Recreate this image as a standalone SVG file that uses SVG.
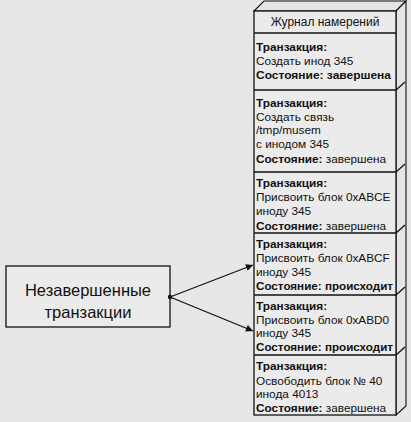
<svg xmlns="http://www.w3.org/2000/svg" width="411" height="422" viewBox="0 0 411 422">
<defs>
<style>
.bg{fill:#e7e7e7}
.ln{fill:none;stroke:#111;stroke-width:1.3}
.face{fill:#ebebeb;stroke:#111;stroke-width:1.3}
.side{fill:#e4e4e4;stroke:#111;stroke-width:1.1}
text{font-family:"Liberation Sans",Arial,sans-serif;fill:#111}
.t{font-size:11.8px}
.b{font-weight:bold}
.h{font-size:12px}
.big{font-size:16.5px}
</style>
<marker id="ah" viewBox="0 0 10 10" refX="10" refY="5" markerWidth="9" markerHeight="7" markerUnits="userSpaceOnUse" orient="auto">
<path d="M0,0 L10,5 L0,10 z" fill="#111"/>
</marker>
</defs>
<rect class="bg" x="0" y="0" width="411" height="422"/>
<g id="journal">
<polygon class="side" points="254,11 264,1 406,1 396,11"/>
<polygon class="side" points="396,11 406,1 406,406 396,415"/>
<rect class="face" x="254" y="11" width="142" height="404"/>
<line class="ln" x1="254" y1="33" x2="396" y2="33"/>
<text class="h" x="325" y="26" text-anchor="middle">Журнал намерений</text>
</g>
<g id="row1">
<line class="ln" x1="254" y1="90" x2="396" y2="90"/>
<line class="ln" x1="396" y1="90" x2="405" y2="82"/>
<text class="t b" x="256" y="51">Транзакция:</text>
<text class="t" x="256" y="65">Создать инод 345</text>
<text class="t b" x="256" y="79" textLength="135" lengthAdjust="spacingAndGlyphs">Состояние: завершена</text>
</g>
<g id="row2">
<line class="ln" x1="254" y1="172" x2="396" y2="172"/>
<line class="ln" x1="396" y1="172" x2="405" y2="164"/>
<text class="t b" x="256" y="107">Транзакция:</text>
<text class="t" x="256" y="121">Создать связь</text>
<text class="t" x="256" y="134">/tmp/musem</text>
<text class="t" x="256" y="148">с инодом 345</text>
<text class="t" x="256" y="163"><tspan class="b">Состояние:</tspan> завершена</text>
</g>
<g id="row3">
<line class="ln" x1="254" y1="233" x2="396" y2="233"/>
<line class="ln" x1="396" y1="233" x2="405" y2="225"/>
<text class="t b" x="256" y="187">Транзакция:</text>
<text class="t" x="256" y="201">Присвоить блок 0xABCE</text>
<text class="t" x="256" y="215">иноду 345</text>
<text class="t" x="256" y="230"><tspan class="b">Состояние:</tspan> завершена</text>
</g>
<g id="row4">
<line class="ln" x1="254" y1="295" x2="396" y2="295"/>
<line class="ln" x1="396" y1="295" x2="405" y2="287"/>
<text class="t b" x="256" y="248">Транзакция:</text>
<text class="t" x="256" y="262">Присвоить блок 0xABCF</text>
<text class="t" x="256" y="276">иноду 345</text>
<text class="t b" x="256" y="290" textLength="137" lengthAdjust="spacingAndGlyphs">Состояние: происходит</text>
</g>
<g id="row5">
<line class="ln" x1="254" y1="355" x2="396" y2="355"/>
<line class="ln" x1="396" y1="355" x2="405" y2="347"/>
<text class="t b" x="256" y="310">Транзакция:</text>
<text class="t" x="256" y="324">Присвоить блок 0xABD0</text>
<text class="t" x="256" y="337">иноду 345</text>
<text class="t b" x="256" y="351" textLength="137" lengthAdjust="spacingAndGlyphs">Состояние: происходит</text>
</g>
<g id="row6">
<text class="t b" x="256" y="370">Транзакция:</text>
<text class="t" x="256" y="385">Освободить блок № 40</text>
<text class="t" x="256" y="398">инода 4013</text>
<text class="t" x="256" y="412"><tspan class="b">Состояние:</tspan> завершена</text>
</g>
<g id="pending">
<rect class="face" x="6" y="266" width="164" height="61"/>
<text class="big" x="88" y="296" text-anchor="middle">Незавершенные</text>
<text class="big" x="88" y="318" text-anchor="middle">транзакции</text>
</g>
<g id="connectors">
<circle cx="170" cy="297" r="2.2" fill="#111"/>
<line class="ln" x1="170" y1="297" x2="253" y2="265" marker-end="url(#ah)"/>
<line class="ln" x1="170" y1="297" x2="253" y2="331" marker-end="url(#ah)"/>
</g>
</svg>
